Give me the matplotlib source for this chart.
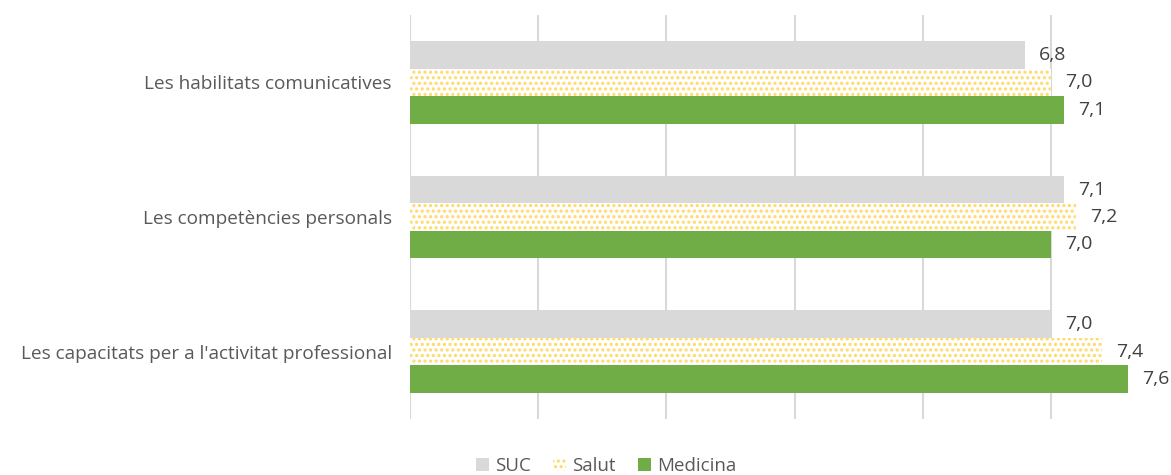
import matplotlib
matplotlib.use("Agg")
import matplotlib.pyplot as plt
import numpy as np

categories = ["Les habilitats comunicatives", "Les competències personals",
              "Les capacitats per a l'activitat professional"]
series_names = ["SUC", "Salut", "Medicina"]
suc = [6.8, 7.1, 7.0]
salut = [7.0, 7.2, 7.4]
medicina = [7.1, 7.0, 7.6]

plt.rcParams['font.family'] = ['Open Sans', 'DejaVu Sans']
plt.rcParams['hatch.linewidth'] = 1.5

W, H = 1171, 475
fig = plt.figure(figsize=(W / 100, H / 100), dpi=100)
x0, x1 = 410, 1179
y0, y1 = 15, 419
ax = fig.add_axes([x0 / W, 1 - y1 / H, (x1 - x0) / W, (y1 - y0) / H])

n = len(categories)
pos = np.arange(n)
bh = 0.204
colors = ['#d9d9d9', 'white', '#70ad47']
data = [suc, salut, medicina]
offsets = [-bh, 0, bh]
for i, (vals, name) in enumerate(zip(data, series_names)):
    if name == "Salut":
        ax.barh(pos + offsets[i], vals, height=bh, color='white',
                edgecolor='#ffd966', linewidth=0, hatch='...', label=name)
    else:
        ax.barh(pos + offsets[i], vals, height=bh, color=colors[i],
                linewidth=0, label=name)
    for p, v in zip(pos + offsets[i], vals):
        ax.text(v + 0.11, p, f"{v:.1f}".replace('.', ','), va='center', ha='left',
                fontsize=14, color='#404040', clip_on=False)

ax.set_xlim(2, 8)
ax.set_ylim(n - 0.5, -0.5)
ax.set_xticks([2, 3, 4, 5, 6, 7, 8])
ax.set_xticklabels([])
ax.tick_params(axis='x', length=0)
ax.grid(axis='x', color='#d9d9d9', linewidth=1.5)
ax.set_axisbelow(True)
for s in ax.spines.values():
    s.set_visible(False)
ax.set_yticks(pos)
ax.set_yticklabels(categories, fontsize=13.7, color='#595959')
ax.tick_params(axis='y', length=0, pad=13)

handles = [plt.Rectangle((0, 0), 1, 1, facecolor='#d9d9d9', linewidth=0),
           plt.Rectangle((0, 0), 1, 1, facecolor='white', edgecolor='#ffd966',
                         linewidth=0, hatch='...'),
           plt.Rectangle((0, 0), 1, 1, facecolor='#70ad47', linewidth=0)]
fig.legend(handles, series_names, loc='center', bbox_to_anchor=(606 / W, 1 - 466 / H),
           ncol=3, frameon=False, fontsize=13.5, labelcolor='#595959',
           handlelength=0.7, handleheight=0.7, handletextpad=0.3, columnspacing=1.2)

fig.savefig("out.png", dpi=100)
